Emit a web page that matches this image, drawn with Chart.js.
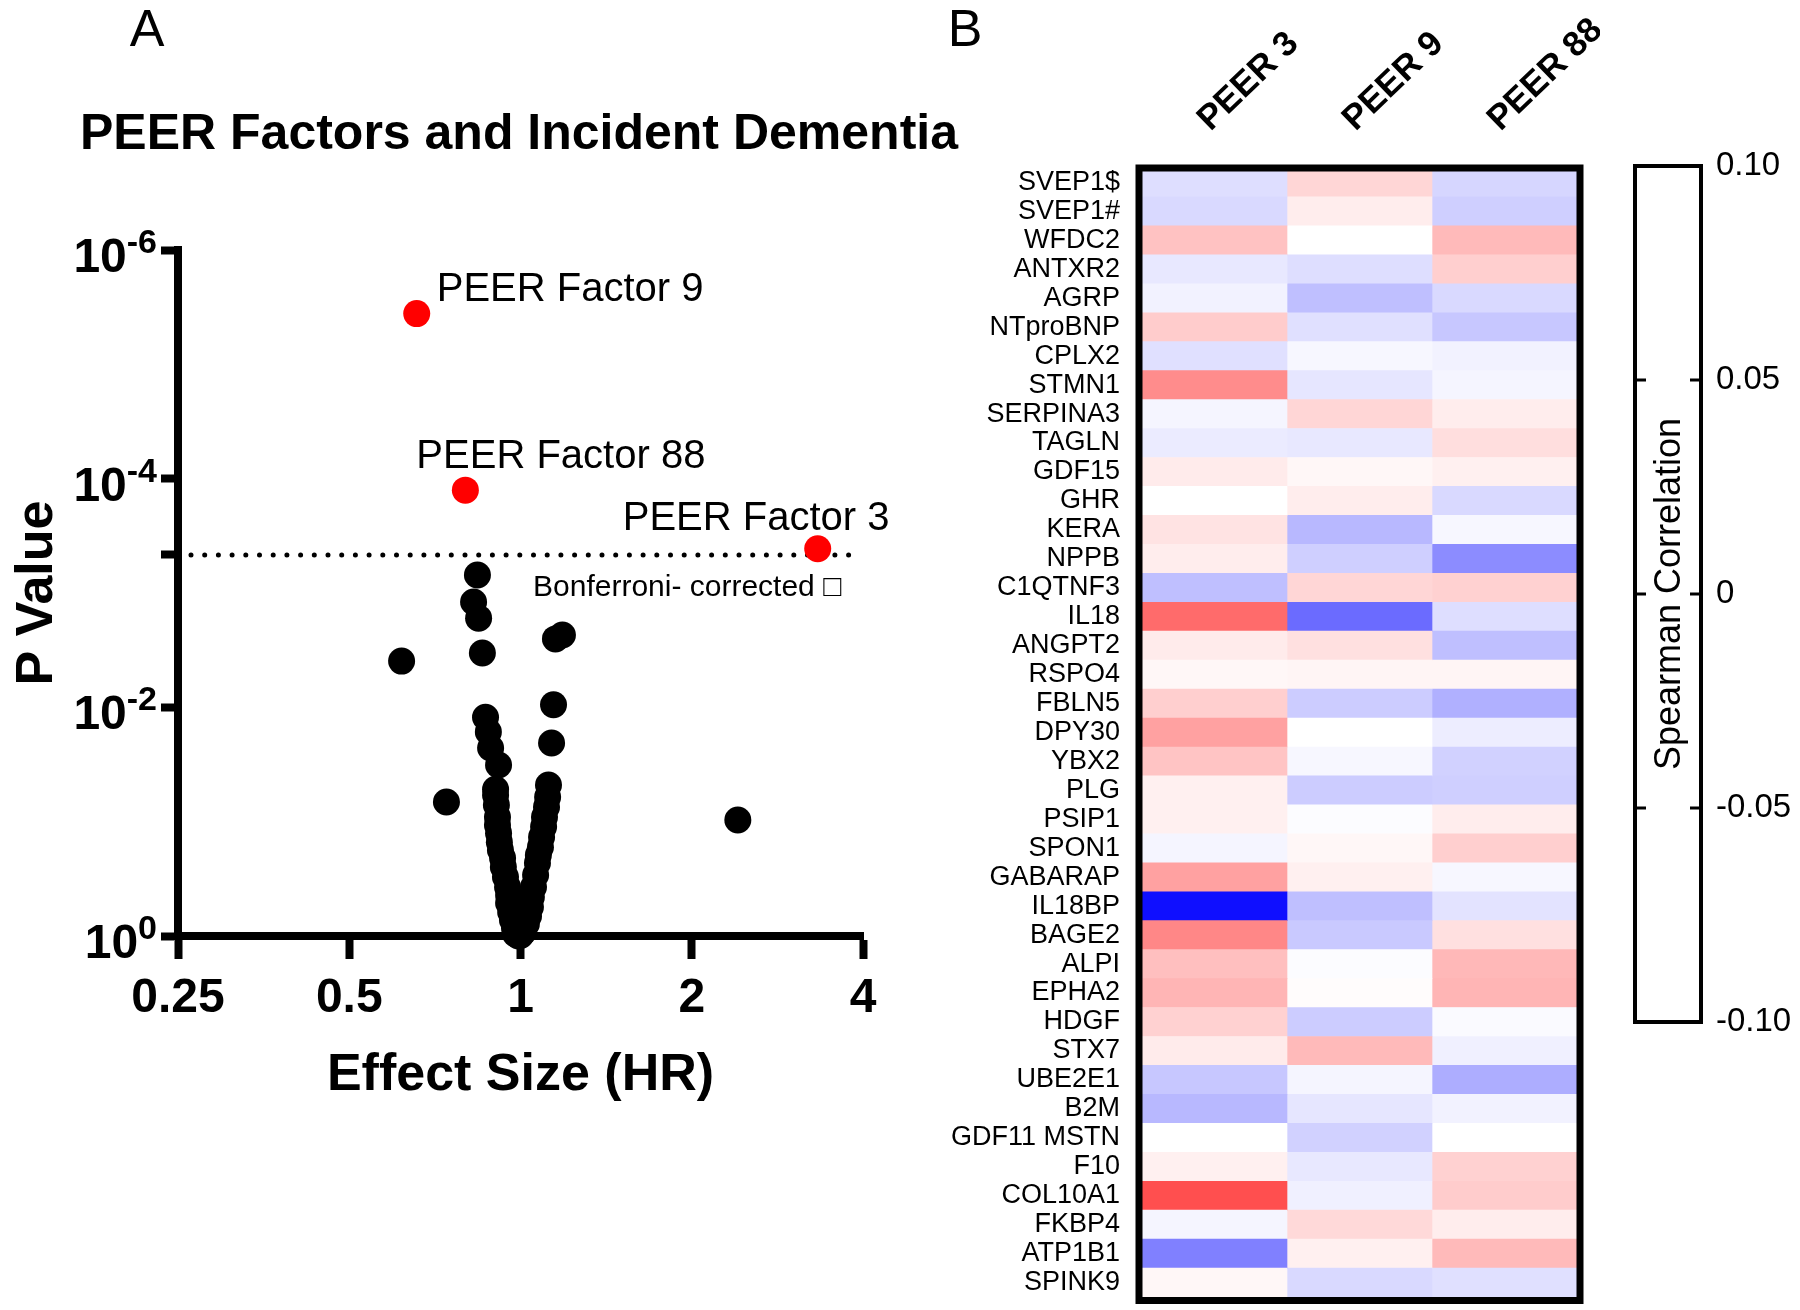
<!DOCTYPE html>
<html>
<head>
<meta charset="utf-8">
<script src="https://cdn.jsdelivr.net/npm/chart.js@4.4.0/dist/chart.umd.min.js"></script>
<style>
html, body { margin: 0; padding: 0; background: #fff; }
#wrap { position: relative; width: 1800px; height: 1310px; overflow: hidden; }
canvas { position: absolute; top: 0; }
</style>
</head>
<body>
<div id="wrap">
  <canvas id="volcano" width="960" height="1310" style="left:0px"></canvas>
  <canvas id="heat" width="660" height="1310" style="left:940px"></canvas>
  <canvas id="cbar" width="200" height="1310" style="left:1600px"></canvas>
</div>
<script>
const fam = '"Liberation Sans", Arial, Helvetica, sans-serif';

/* panel A : proteins (HR, p) */
const hrOther = [0.840, 0.827, 0.844, 0.857, 0.618, 1.185, 1.152, 1.143, 1.134, 0.868, 0.878, 0.886, 0.915, 0.741, 2.41,
  0.904, 0.904, 0.907, 0.911, 0.911, 0.915, 0.918, 0.922, 0.930, 0.933, 0.941, 0.949, 0.953, 0.953, 0.961, 0.968, 0.976, 0.980,
  1.120, 1.116, 1.111, 1.102, 1.098, 1.089, 1.084, 1.075, 1.071, 1.063, 1.054, 1.045, 1.041, 1.033, 1.024, 1.012,
  0.992, 1.0];
const pOther = [6.96e-4, 1.20e-3, 1.66e-3, 3.35e-3, 3.94e-3, 2.33e-3, 2.52e-3, 9.5e-3, 0.0205, 0.0122, 0.0164, 0.0227, 0.0319, 0.0673, 0.0967,
  0.0520, 0.0585, 0.0715, 0.091, 0.107, 0.126, 0.151, 0.177, 0.208, 0.249, 0.305, 0.373, 0.438, 0.515, 0.617, 0.725, 0.851, 0.96,
  0.0478, 0.0608, 0.0745, 0.091, 0.111, 0.136, 0.167, 0.196, 0.230, 0.293, 0.373, 0.456, 0.557, 0.668, 0.785, 0.923,
  1.0, 0.99];

/* PEER factors passing Bonferroni */
const peerNames = ["PEER Factor 9", "PEER Factor 88", "PEER Factor 3"];
const hrPeer = [0.657, 0.800, 3.33];
const pPeer = [3.6e-6, 1.26e-4, 4.1e-4];
const bonferroni = 4.65e-4;

const hrTicks = [0.25, 0.5, 1, 2, 4];
const pTicks = [1e-6, 1e-4, 1e-2, 1];

/* panel B : spearman correlations */
const genes = ["SVEP1$", "SVEP1#", "WFDC2", "ANTXR2", "AGRP", "NTproBNP", "CPLX2", "STMN1", "SERPINA3", "TAGLN",
  "GDF15", "GHR", "KERA", "NPPB", "C1QTNF3", "IL18", "ANGPT2", "RSPO4", "FBLN5", "DPY30",
  "YBX2", "PLG", "PSIP1", "SPON1", "GABARAP", "IL18BP", "BAGE2", "ALPI", "EPHA2", "HDGF",
  "STX7", "UBE2E1", "B2M", "GDF11 MSTN", "F10", "COL10A1", "FKBP4", "ATP1B1", "SPINK9"];
const peerCols = ["PEER 3", "PEER 9", "PEER 88"];
const rhoPeer3 = [-0.013, -0.015, 0.024, -0.009, -0.005, 0.020, -0.012, 0.045, -0.004, -0.008,
  0.008, 0, 0.011, 0.007, -0.025, 0.058, 0.008, 0.003, 0.019, 0.037,
  0.023, 0.006, 0.006, -0.004, 0.037, -0.094, 0.047, 0.025, 0.029, 0.018,
  0.008, -0.022, -0.028, 0, 0.006, 0.069, -0.004, -0.050, 0.003];
const rhoPeer9 = [0.016, 0.007, 0, -0.013, -0.025, -0.012, -0.003, -0.010, 0.016, -0.009,
  0.003, 0.007, -0.028, -0.019, 0.016, -0.058, 0.012, 0.004, -0.020, 0,
  -0.003, -0.020, -0.001, 0.003, 0.006, -0.025, -0.021, -0.001, 0.001, -0.020,
  0.027, -0.004, -0.010, -0.018, -0.009, -0.006, 0.015, 0.006, -0.015];
const rhoPeer88 = [-0.016, -0.019, 0.027, 0.019, -0.015, -0.022, -0.005, -0.004, 0.007, 0.013,
  0.006, -0.015, -0.003, -0.045, 0.018, -0.013, -0.025, 0.004, -0.031, -0.007,
  -0.018, -0.019, 0.007, 0.019, -0.003, -0.011, 0.012, 0.028, 0.029, -0.002,
  -0.006, -0.032, -0.005, 0, 0.018, 0.020, 0.007, 0.027, -0.012];

const cbarTicks = [-0.1, -0.05, 0, 0.05, 0.1];
const cbarLabels = ["-0.10", "-0.05", "0", "0.05", "0.10"];

// blue - white - red, saturating at +-0.1
function rhoColor(v) {
  const t = Math.min(Math.abs(v) / 0.1, 1);
  const c = Math.round(255 * (1 - t));
  return v >= 0 ? `rgb(255,${c},${c})` : `rgb(${c},${c},255)`;
}

/* ---------- panel A ---------- */
const labelOffsets = [[20, -13], [-49, -22], [-195, -19]];

const volcanoDecor = {
  id: 'volcanoDecor',
  beforeDatasetsDraw(chart) {
    const { ctx, chartArea: ca, scales } = chart;
    const y = scales.y.getPixelForValue(bonferroni);
    ctx.save();
    ctx.strokeStyle = '#000';
    ctx.lineWidth = 5;
    ctx.lineCap = 'round';
    ctx.setLineDash([0, 13.7]);
    ctx.beginPath();
    ctx.moveTo(ca.left + 13, y);
    ctx.lineTo(ca.right - 6, y);
    ctx.stroke();
    ctx.restore();
  },
  afterDraw(chart) {
    const { ctx, chartArea: ca, scales } = chart;
    const xs = scales.x, ys = scales.y;
    ctx.save();
    ctx.fillStyle = '#000';
    ctx.textBaseline = 'alphabetic';

    // panel letter + title
    ctx.textAlign = 'center';
    ctx.font = `52px ${fam}`;
    ctx.fillText('A', 147, 46);
    ctx.font = `bold 50px ${fam}`;
    ctx.fillText('PEER Factors and Incident Dementia', 519, 149);

    // y tick labels 10^n
    pTicks.forEach(v => {
      const py = ys.getPixelForValue(v);
      const exp = String(Math.round(Math.log10(v)));
      ctx.font = `bold 34px ${fam}`;
      const w2 = ctx.measureText(exp).width;
      ctx.font = `bold 48px ${fam}`;
      const w1 = ctx.measureText('10').width;
      const right = ca.left - 21;
      ctx.textAlign = 'left';
      ctx.fillText('10', right - w2 - w1, py + 22);
      ctx.font = `bold 34px ${fam}`;
      ctx.fillText(exp, right - w2, py + 3);
    });

    // x tick labels
    ctx.textAlign = 'center';
    ctx.font = `bold 48px ${fam}`;
    hrTicks.forEach(v => {
      ctx.fillText(String(v), xs.getPixelForValue(v), ca.bottom + 76);
    });

    // axis titles
    ctx.font = `bold 52px ${fam}`;
    ctx.fillText('Effect Size (HR)', (ca.left + ca.right) / 2, ca.bottom + 154);
    ctx.save();
    ctx.translate(52, (ca.top + ca.bottom) / 2);
    ctx.rotate(-Math.PI / 2);
    ctx.fillText('P Value', 0, 0);
    ctx.restore();

    // labels for the significant factors
    ctx.textAlign = 'left';
    ctx.font = `40px ${fam}`;
    peerNames.forEach((name, i) => {
      const px = xs.getPixelForValue(hrPeer[i]);
      const py = ys.getPixelForValue(pPeer[i]);
      ctx.fillText(name, px + labelOffsets[i][0], py + labelOffsets[i][1]);
    });
    ctx.font = `30px ${fam}`;
    ctx.fillText('Bonferroni- corrected \u25A1', ca.left + 355, ys.getPixelForValue(bonferroni) + 41);
    ctx.restore();
  }
};

new Chart(document.getElementById('volcano'), {
  type: 'scatter',
  data: {
    datasets: [
      {
        label: 'proteins',
        data: hrOther.map((x, i) => ({ x: x, y: pOther[i] })),
        backgroundColor: '#000',
        pointRadius: 13.5,
        pointHoverRadius: 13.5,
        borderWidth: 0,
        clip: false
      },
      {
        label: 'PEER factors',
        data: hrPeer.map((x, i) => ({ x: x, y: pPeer[i] })),
        backgroundColor: '#ff0000',
        pointRadius: 13.5,
        pointHoverRadius: 13.5,
        borderWidth: 0,
        clip: false
      }
    ]
  },
  options: {
    responsive: false,
    animation: false,
    layout: { padding: { left: 178, right: 97, top: 250, bottom: 374 } },
    plugins: { legend: { display: false }, tooltip: { enabled: false } },
    scales: {
      x: {
        type: 'logarithmic', min: 0.25, max: 4,
        afterBuildTicks: s => { s.ticks = hrTicks.map(v => ({ value: v })); },
        ticks: { display: false },
        grid: { drawOnChartArea: false, drawTicks: true, tickLength: 23, tickWidth: 8, tickColor: '#000' },
        border: { display: true, color: '#000', width: 8 },
        afterFit: s => { s.height = 0; }
      },
      y: {
        type: 'logarithmic', reverse: true, min: 1e-6, max: 1,
        afterBuildTicks: s => { s.ticks = pTicks.concat([bonferroni]).map(v => ({ value: v })); },
        ticks: { display: false },
        grid: { drawOnChartArea: false, drawTicks: true, tickLength: 17, tickWidth: 8, tickColor: '#000' },
        border: { display: true, color: '#000', width: 8 },
        afterFit: s => { s.width = 0; }
      }
    }
  },
  plugins: [volcanoDecor]
});

/* ---------- panel B ---------- */
const heatDecor = {
  id: 'heatDecor',
  afterDraw(chart) {
    const { ctx, chartArea: ca, scales } = chart;
    ctx.save();
    ctx.strokeStyle = '#000';
    ctx.lineWidth = 7;
    ctx.strokeRect(ca.left - 3, ca.top, ca.right - ca.left + 6, ca.bottom - ca.top + 3.5);

    ctx.fillStyle = '#000';
    ctx.font = `52px ${fam}`;
    ctx.textAlign = 'center';
    ctx.fillText('B', 25, 46);

    ctx.font = `bold 35px ${fam}`;
    ctx.textAlign = 'left';
    peerCols.forEach((name, i) => {
      const cx = scales.x.getPixelForValue(i + 0.5);
      ctx.save();
      ctx.translate(cx - 4, 132);
      ctx.rotate(-44 * Math.PI / 180);
      ctx.fillText(name, 0, 0);
      ctx.restore();
    });
    ctx.restore();
  }
};

new Chart(document.getElementById('heat'), {
  type: 'bar',
  data: {
    labels: genes,
    datasets: [rhoPeer3, rhoPeer9, rhoPeer88].map((vals, i) => ({
      label: peerCols[i],
      data: vals.map(() => 1),
      backgroundColor: vals.map(rhoColor),
      borderWidth: 0,
      barPercentage: 1,
      categoryPercentage: 1
    }))
  },
  options: {
    indexAxis: 'y',
    responsive: false,
    animation: false,
    layout: { padding: { left: 0, right: 23, top: 168, bottom: 13 } },
    plugins: { legend: { display: false }, tooltip: { enabled: false } },
    scales: {
      x: { stacked: true, min: 0, max: 3, display: false },
      y: {
        stacked: true,
        grid: { display: false, drawTicks: false },
        border: { display: false },
        ticks: { autoSkip: false, padding: 22, color: '#000', font: { family: fam, size: 27 } },
        afterFit: s => { s.width = 202; s.paddingTop = 0; s.paddingBottom = 0; }
      }
    }
  },
  plugins: [heatDecor]
});

/* ---------- colour bar ---------- */
const cbarDecor = {
  id: 'cbarDecor',
  afterDraw(chart) {
    const { ctx, chartArea: ca, scales } = chart;
    ctx.save();
    ctx.strokeStyle = '#000';
    ctx.lineWidth = 4;
    ctx.strokeRect(ca.left, ca.top, ca.right - ca.left, ca.bottom - ca.top);
    ctx.lineWidth = 3;
    cbarTicks.slice(1, -1).forEach(v => {
      const y = scales.y.getPixelForValue(v);
      ctx.beginPath();
      ctx.moveTo(ca.left, y); ctx.lineTo(ca.left + 11, y);
      ctx.moveTo(ca.right - 11, y); ctx.lineTo(ca.right, y);
      ctx.stroke();
    });
    ctx.fillStyle = '#000';
    ctx.font = `36px ${fam}`;
    ctx.textAlign = 'center';
    ctx.textBaseline = 'middle';
    ctx.translate((ca.left + ca.right) / 2 + 2, (ca.top + ca.bottom) / 2);
    ctx.rotate(-Math.PI / 2);
    ctx.fillText('Spearman Correlation', 0, 0);
    ctx.restore();
  }
};

new Chart(document.getElementById('cbar'), {
  type: 'bar',
  data: { labels: [''], datasets: [] },
  options: {
    responsive: false,
    animation: false,
    layout: { padding: { left: 35, right: 0, top: 166, bottom: 288 } },
    plugins: { legend: { display: false }, tooltip: { enabled: false } },
    scales: {
      x: { display: false },
      y: {
        position: 'right', min: -0.1, max: 0.1,
        afterBuildTicks: s => { s.ticks = cbarTicks.map(v => ({ value: v })); },
        grid: { display: false, drawTicks: false },
        border: { display: false },
        ticks: {
          padding: 15, color: '#000', font: { family: fam, size: 33 },
          callback: (v, i) => cbarLabels[i]
        },
        afterFit: s => { s.width = 99; }
      }
    }
  },
  plugins: [cbarDecor]
});
</script>
</body>
</html>
